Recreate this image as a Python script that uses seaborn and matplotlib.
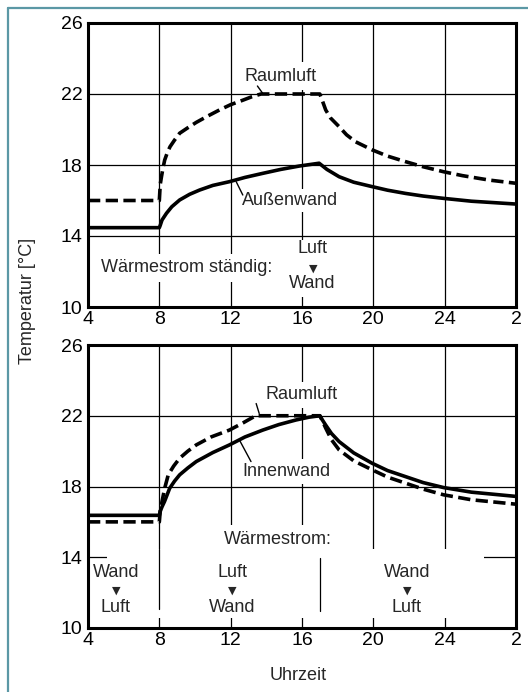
import matplotlib
matplotlib.use("Agg")
import matplotlib.pyplot as plt
import seaborn as sns
import pandas as pd
from matplotlib.lines import Line2D
from matplotlib.patches import Rectangle

# ---------------- data ----------------
x_ticks = [4, 8, 12, 16, 20, 24, 28]
x_tick_labels = ["4", "8", "12", "16", "20", "24", "2"]
y_ticks = [10, 14, 18, 22, 26]

# top panel: Raumluft (dashed)
top_air_h = [4, 8, 8.05, 8.12, 8.2, 8.3, 8.45, 8.6, 8.85, 9.14, 9.6, 10.07, 10.7, 11.37, 12.0, 12.68, 13.2, 13.7,
             17.0, 17.15, 17.33, 17.6, 18.08, 18.5, 19.0, 19.94, 20.8, 21.8, 22.8, 23.94, 25.0, 26.5, 28]
top_air_t = [16.0, 16.0, 16.9, 17.34, 17.8, 18.28, 18.7, 19.03, 19.4, 19.79, 20.1, 20.4, 20.75, 21.1, 21.4, 21.65, 21.85, 22.0,
             22.0, 21.6, 21.1, 20.65, 20.16, 19.7, 19.31, 18.85, 18.5, 18.19, 17.9, 17.62, 17.4, 17.15, 16.97]
# top panel: Außenwand (solid)
top_wall_h = [4, 8, 8.05, 8.15, 8.4, 8.7, 9.14, 9.7, 10.26, 11.0, 11.93, 12.8, 13.8, 14.8, 15.84, 16.96,
              17.4, 18.08, 18.9, 19.94, 20.8, 21.8, 22.8, 23.94, 25.5, 28]
top_wall_t = [14.47, 14.47, 14.6, 14.9, 15.28, 15.65, 16.03, 16.35, 16.59, 16.85, 17.06, 17.3, 17.53, 17.75, 17.94, 18.1,
              17.75, 17.34, 17.03, 16.78, 16.58, 16.4, 16.25, 16.12, 15.96, 15.8]

# bottom panel: Raumluft (dashed)
bot_air_h = [4, 8, 8.05, 8.15, 8.3, 8.5, 8.8, 9.14, 9.6, 10.07, 10.9, 11.93, 12.7, 13.4,
             17.0, 17.15, 17.33, 17.65, 18.08, 18.9, 19.94, 20.8, 21.8, 22.8, 23.94, 25.5, 28]
bot_air_t = [16.0, 16.0, 16.6, 17.15, 17.9, 18.66, 19.15, 19.6, 20.0, 20.35, 20.8, 21.19, 21.6, 22.0,
             22.0, 21.7, 21.3, 20.65, 20.07, 19.45, 18.94, 18.53, 18.19, 17.85, 17.53, 17.25, 17.0]
# bottom panel: Innenwand (solid)
bot_wall_h = [4, 8, 8.05, 8.15, 8.29, 8.58, 8.85, 9.14, 9.6, 10.07, 11.0, 11.93, 12.8, 13.8, 14.7, 15.66, 16.4, 17.0,
              17.15, 17.33, 17.65, 18.08, 18.9, 19.94, 20.8, 21.8, 22.8, 23.94, 25.5, 28]
bot_wall_t = [16.37, 16.37, 16.6, 16.85, 17.15, 17.9, 18.3, 18.66, 19.05, 19.41, 19.92, 20.35, 20.8, 21.19, 21.5, 21.76, 21.92, 22.0,
              21.75, 21.47, 21.0, 20.54, 19.9, 19.31, 18.9, 18.56, 18.22, 17.94, 17.68, 17.44]

# ---------------- style ----------------
sns.set_style("white")
plt.rcParams["font.family"] = ["Liberation Sans", "DejaVu Sans"]
FS = 13
TFS = 14

fig = plt.figure(figsize=(5.28, 6.92), dpi=100)
ax1 = fig.add_axes([88/528, 1-307/692, 428/528, 284/692])
ax2 = fig.add_axes([88/528, 1-628/692, 428/528, 283/692])

LW = 2.6
DASH = (3.4, 1.5)


def draw(ax, h, t, dashed):
    df = pd.DataFrame({"h": h, "t": t})
    sns.lineplot(data=df, x="h", y="t", ax=ax, estimator=None, sort=False,
                 color="black", lw=LW, zorder=4)
    line = ax.get_lines()[-1]
    if dashed:
        line.set_dashes(DASH)
    line.set_solid_capstyle("butt")
    line.set_dash_capstyle("butt")
    line.set_solid_joinstyle("round")


draw(ax1, top_air_h, top_air_t, True)
draw(ax1, top_wall_h, top_wall_t, False)
draw(ax2, bot_air_h, bot_air_t, True)
draw(ax2, bot_wall_h, bot_wall_t, False)

for ax in (ax1, ax2):
    ax.set_xlim(4, 28)
    ax.set_ylim(10, 26)
    ax.set_xticks(x_ticks)
    ax.set_xticklabels(x_tick_labels)
    ax.set_yticks(y_ticks)
    ax.tick_params(length=0, labelsize=TFS, pad=4, colors="black")
    ax.tick_params(axis="x", pad=3)
    ax.grid(True, color="black", lw=0.9)
    ax.set_axisbelow(True)
    ax.set_xlabel("")
    ax.set_ylabel("")
    for s in ax.spines.values():
        s.set_linewidth(2.2)
        s.set_color("black")

wb = dict(facecolor="white", edgecolor="none", pad=2.5)
tri = dict(family="DejaVu Sans", fontsize=8)

# ---- top annotations ----
ax1.text(14.78, 23.0, "Raumluft", ha="center", va="center", fontsize=FS, bbox=dict(wb, pad=4), zorder=3)
ax1.plot([13.5, 13.78], [22.45, 22.06], color="black", lw=1.0, zorder=3)
ax1.text(12.66, 16.0, "Außenwand", ha="left", va="center", fontsize=FS, bbox=wb, zorder=3)
ax1.plot([12.31, 12.68], [17.06, 16.31], color="black", lw=1.0, zorder=3)
ax1.text(9.53, 12.2, "Wärmestrom ständig:", ha="center", va="center", fontsize=FS, bbox=dict(wb, pad=4), zorder=3)
ax1.add_patch(Rectangle((15.5, 10.55), 2.3, 3.25, facecolor="white", edgecolor="none", zorder=1.5))
ax1.text(16.57, 13.27, "Luft", ha="center", va="center", fontsize=FS, zorder=3)
ax1.text(16.65, 12.14, "▼", ha="center", va="center", zorder=3, **tri)
ax1.text(16.55, 11.35, "Wand", ha="center", va="center", fontsize=FS, zorder=3)

# ---- bottom annotations ----
ax2.text(15.95, 23.18, "Raumluft", ha="center", va="center", fontsize=FS, bbox=dict(wb, pad=3), zorder=3)
ax2.plot([13.43, 13.6], [22.69, 22.13], color="black", lw=1.0, zorder=3)
ax2.text(12.66, 18.85, "Innenwand", ha="left", va="center", fontsize=FS, bbox=dict(wb, pad=3), zorder=3)
ax2.plot([12.49, 13.14], [20.63, 19.41], color="black", lw=1.0, zorder=3)
ax2.text(14.67, 15.01, "Wärmestrom:", ha="center", va="center", fontsize=FS, bbox=dict(wb, pad=4), zorder=3)
ax2.add_patch(Rectangle((5.06, 10.56), 21.12, 3.89, facecolor="white", edgecolor="none", zorder=1.5))
ax2.plot([8, 8], [11.07, 14.45], color="black", lw=0.9, zorder=2)
ax2.plot([17, 17], [10.96, 13.94], color="black", lw=0.9, zorder=2)
for xc, a, b in [(5.56, "Wand", "Luft"), (12.1, "Luft", "Wand"), (21.88, "Wand", "Luft")]:
    ax2.text(xc, 13.15, a, ha="center", va="center", fontsize=FS, zorder=3)
    ax2.text(xc, 12.14, "▼", ha="center", va="center", zorder=3, **tri)
    ax2.text(xc, 11.18, b, ha="center", va="center", fontsize=FS, zorder=3)

# ---- shared labels ----
fig.text(28/528, 1-301/692, "Temperatur [°C]", rotation=90, ha="center", va="center", fontsize=FS)
fig.text(298/528, 1-675/692, "Uhrzeit", ha="center", va="center", fontsize=FS)

# ---- teal frame (left and top) ----
fc = "#5b98a5"
fig.add_artist(Line2D([7.5/528, 7.5/528], [0, 1-7.5/692], color=fc, lw=1.6, transform=fig.transFigure))
fig.add_artist(Line2D([7.5/528, 1], [1-7.5/692, 1-7.5/692], color=fc, lw=1.6, transform=fig.transFigure))

fig.savefig("out.png", dpi=100)
